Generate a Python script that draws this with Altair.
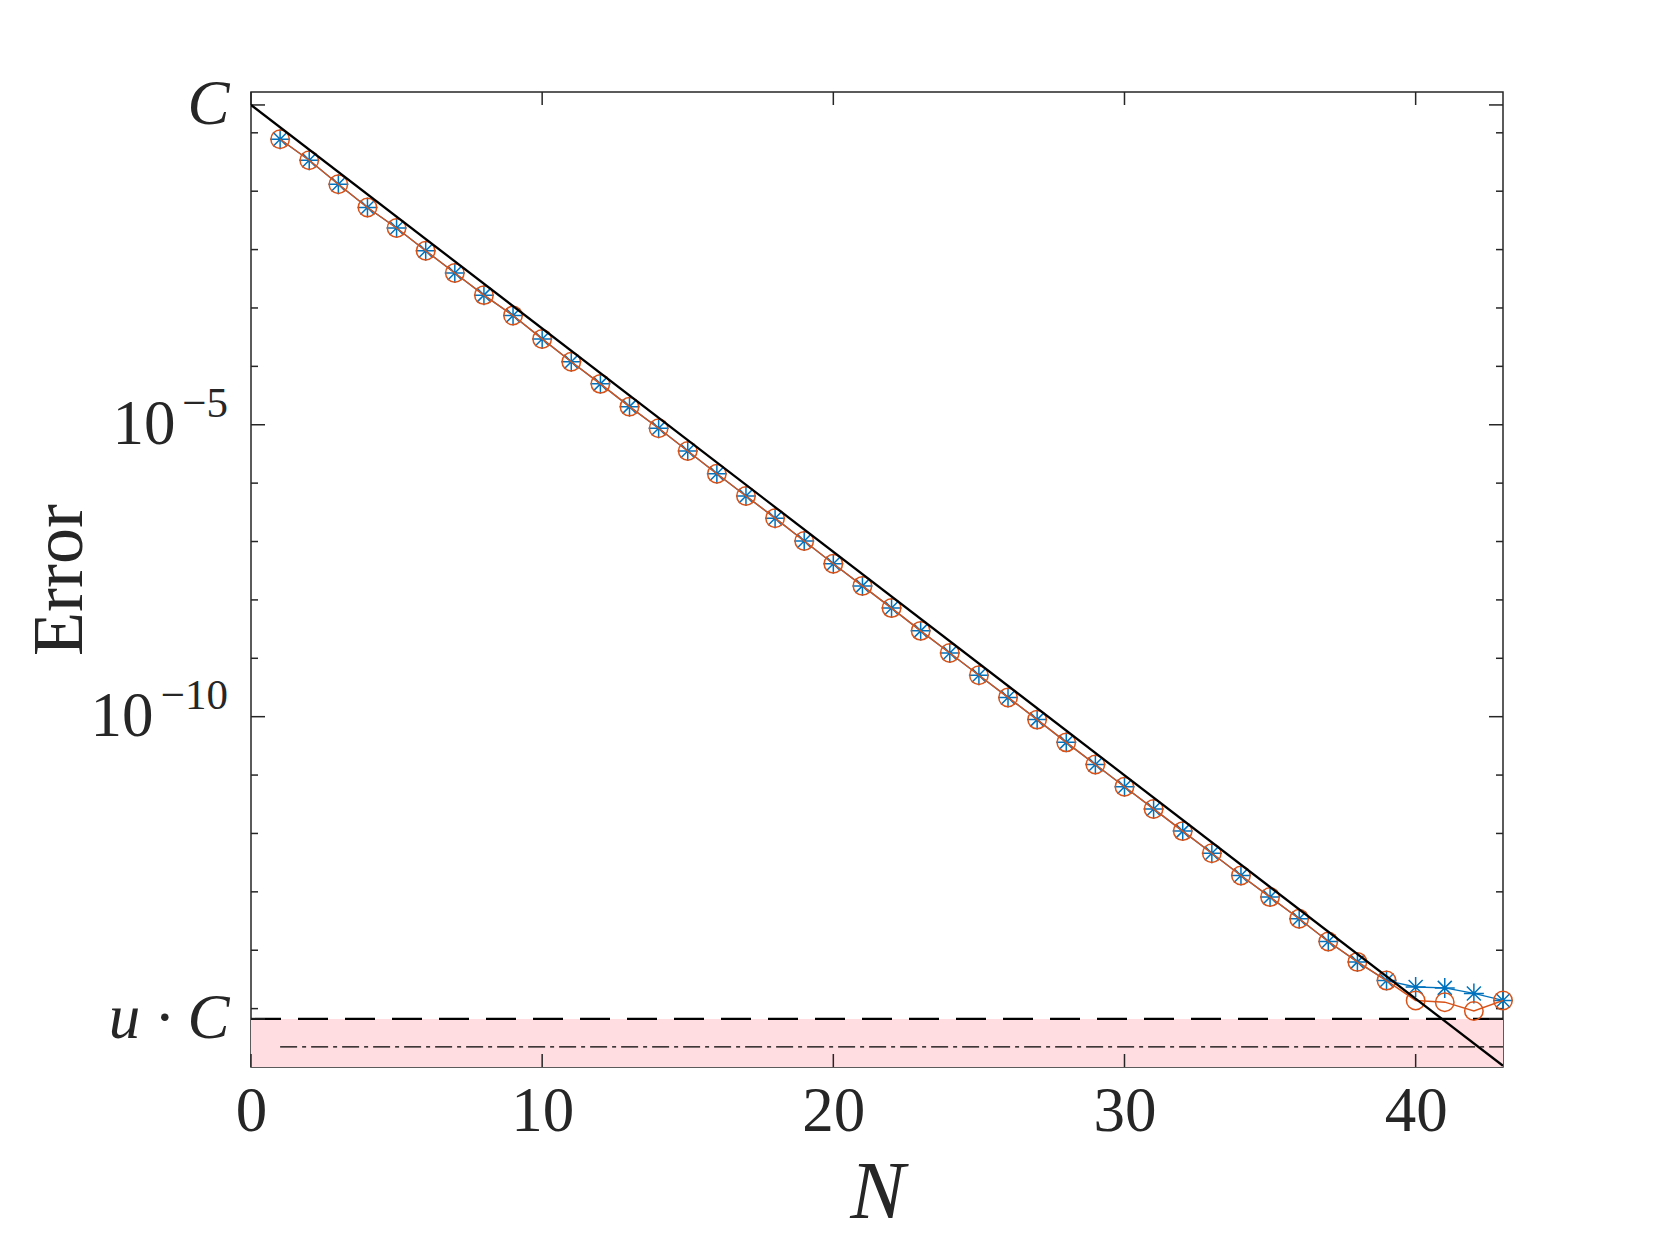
import altair as alt
import pandas as pd

# ---- data ----
N_vals = list(range(1, 44))
blue_log10 = [-0.11, -0.47, -0.88, -1.28, -1.63, -2.02, -2.40, -2.78, -3.13, -3.53,
              -3.92, -4.30, -4.69, -5.06, -5.45, -5.84, -6.22, -6.60, -6.99, -7.38,
              -7.76, -8.14, -8.53, -8.91, -9.29, -9.67, -10.05, -10.44, -10.82, -11.20,
              -11.58, -11.96, -12.34, -12.72, -13.09, -13.46, -13.85, -14.20, -14.52, -14.63,
              -14.645, -14.74, -14.86]
orange_log10 = [-0.11, -0.47, -0.88, -1.28, -1.63, -2.02, -2.40, -2.78, -3.13, -3.53,
                -3.92, -4.30, -4.69, -5.06, -5.45, -5.84, -6.22, -6.60, -6.99, -7.38,
                -7.76, -8.14, -8.53, -8.91, -9.29, -9.67, -10.05, -10.44, -10.82, -11.20,
                -11.58, -11.96, -12.34, -12.72, -13.09, -13.46, -13.85, -14.20, -14.52, -14.86,
                -14.89, -15.04, -14.86]
C_val = 3.0
u_val = 2.22e-16
uC_val = 6.66e-16
ref_N = [0, 43]
ref_err = [3.0, 1.05e-16]
y_domain = [1e-16, 5.0]
x_domain = [0, 43]
x_tick_vals = [0, 10, 20, 30, 40]
y_major = [3.0, 1e-5, 1e-10, 6.66e-16]
y_minor = [1, 1e-1, 1e-2, 1e-3, 1e-4, 1e-6, 1e-7, 1e-8, 1e-9,
           1e-11, 1e-12, 1e-13, 1e-14, 1e-15]
pow_vals = [1e-5, 1e-10]
pow_exps = ["−5", "−10"]

W, H = 1252, 975
FONT = "Liberation Serif"
AX = "#262626"
BLUE = "#0072BD"
ORANGE = "#D95319"
LBL = 63

blue_df = pd.DataFrame({"N": N_vals, "err": [10 ** v for v in blue_log10]})
orange_df = pd.DataFrame({"N": N_vals, "err": [10 ** v for v in orange_log10]})
ref_df = pd.DataFrame({"N": ref_N, "err": ref_err})
band_df = pd.DataFrame({"N": [x_domain[0]], "x1": [x_domain[1]],
                        "err": [uC_val], "y1": [y_domain[0]]})
uc_df = pd.DataFrame({"N": [0], "x1": [43], "err": [uC_val]})
u_df = pd.DataFrame({"N": [1], "x1": [43], "err": [u_val]})
ymaj_df = pd.DataFrame({"err": y_major})
ymin_df = pd.DataFrame({"err": y_minor})
xt_df = pd.DataFrame({"N": x_tick_vals})
exp_df = pd.DataFrame({"err": pow_vals, "exp": pow_exps})

xs = alt.Scale(type="linear", domain=x_domain, nice=False, zero=False)
ys = alt.Scale(type="log", domain=y_domain, nice=False)

y_label_expr = ("datum.value > 1 ? 'C' : (datum.value > 1e-12 ? '10' : 'u · C')")

x_axis = alt.Axis(values=x_tick_vals, ticks=False, domain=False, grid=False,
                  labelFont=FONT, labelFontSize=LBL, labelColor=AX, labelPadding=13,
                  labelFlush=False,
                  title="N", titleFont=FONT, titleFontSize=82, titleFontStyle="italic",
                  titleFontWeight="normal", titleColor=AX, titleX=W / 2, titleY=125,
                  titleAlign="center", titleBaseline="middle")
y_axis = alt.Axis(values=y_major, labelExpr=y_label_expr, ticks=False, domain=False,
                  grid=False, labelFont=FONT, labelFontSize=LBL, labelColor=AX,
                  labelPadding={"condition": [
                      {"test": "datum.value < 1e-4 && datum.value > 1e-6", "value": 76},
                      {"test": "datum.value < 1e-9 && datum.value > 1e-11", "value": 98}],
                      "value": 22},
                  labelBaseline="middle", labelFlush=False,
                  labelFontStyle={"condition": {"test": "datum.value > 1 || datum.value < 1e-14",
                                                "value": "italic"},
                                  "value": "normal"},
                  title="Error", titleFont=FONT, titleFontSize=72, titleFontWeight="normal",
                  titleColor=AX, titleAngle=270, titleX=-192, titleY=H / 2,
                  titleAlign="center", titleBaseline="middle")


def X(field="N"):
    return alt.X(f"{field}:Q", scale=xs, axis=x_axis, title="N")


def Y(field="err"):
    return alt.Y(f"{field}:Q", scale=ys, axis=y_axis, title="Error")


band = alt.Chart(band_df).mark_rect(color="#FFDDE1", clip=True).encode(
    x=X(), x2="x1:Q", y=Y(), y2="y1:Q")

uc_line = alt.Chart(uc_df).mark_rule(color="black", strokeWidth=2.2,
                                     strokeDash=[30, 17], clip=True).encode(
    x=X(), x2="x1:Q", y=Y())

u_line = alt.Chart(u_df).mark_rule(color="black", strokeWidth=1.3,
                                   strokeDash=[17, 5, 4, 5], clip=True).encode(
    x=X(), x2="x1:Q", y=Y())


def ytick(df, x_a, x_b):
    return alt.Chart(df).mark_rule(color=AX, strokeWidth=1.5).encode(
        y=Y(), x=alt.value(x_a), x2=alt.value(x_b))


def xtick(df, y_a, y_b):
    return alt.Chart(df).mark_rule(color=AX, strokeWidth=1.5).encode(
        x=X(), y=alt.value(y_a), y2=alt.value(y_b))


ticks = [ytick(ymaj_df, 0, 14), ytick(ymin_df, 0, 7),
         ytick(ymaj_df, W, W - 14), ytick(ymin_df, W, W - 7),
         xtick(xt_df, H, H - 13), xtick(xt_df, 0, 13)]

# exponents of the 10^k tick labels
exps = alt.Chart(exp_df).mark_text(font=FONT, fontSize=43, color=AX, align="right",
                                   baseline="middle", dy=-21).encode(
    y=Y(), x=alt.value(-23), text="exp:N")

ASTER = "M-1,0L1,0M0,-1L0,1M-0.7,-0.7L0.7,0.7M-0.7,0.7L0.7,-0.7"

blue_line = alt.Chart(blue_df).mark_line(color=BLUE, strokeWidth=1.4, clip=True).encode(
    x=X(), y=Y())
blue_pts = alt.Chart(blue_df).mark_point(shape=ASTER, filled=False, color=BLUE,
                                         strokeWidth=1.5, size=400, opacity=1).encode(
    x=X(), y=Y())
orange_line = alt.Chart(orange_df).mark_line(color=ORANGE, strokeWidth=1.4, clip=True).encode(
    x=X(), y=Y())
orange_pts = alt.Chart(orange_df).mark_point(shape="circle", filled=False, color=ORANGE,
                                             strokeWidth=1.5, size=340, opacity=1).encode(
    x=X(), y=Y())
ref_line = alt.Chart(ref_df).mark_line(color="black", strokeWidth=2.3, clip=True).encode(
    x=X(), y=Y())

chart = alt.layer(band, uc_line, u_line, *ticks, exps, blue_line, blue_pts,
                  orange_line, orange_pts, ref_line).properties(
    width=W, height=H,
    autosize=alt.AutoSizeParams(type="none"),
    padding={"left": 243, "top": 84, "right": 100, "bottom": 170},
    background="white",
).configure_view(stroke=AX, strokeWidth=1.5)

chart.save("out.html", embed_options={"renderer": "svg", "actions": False})
